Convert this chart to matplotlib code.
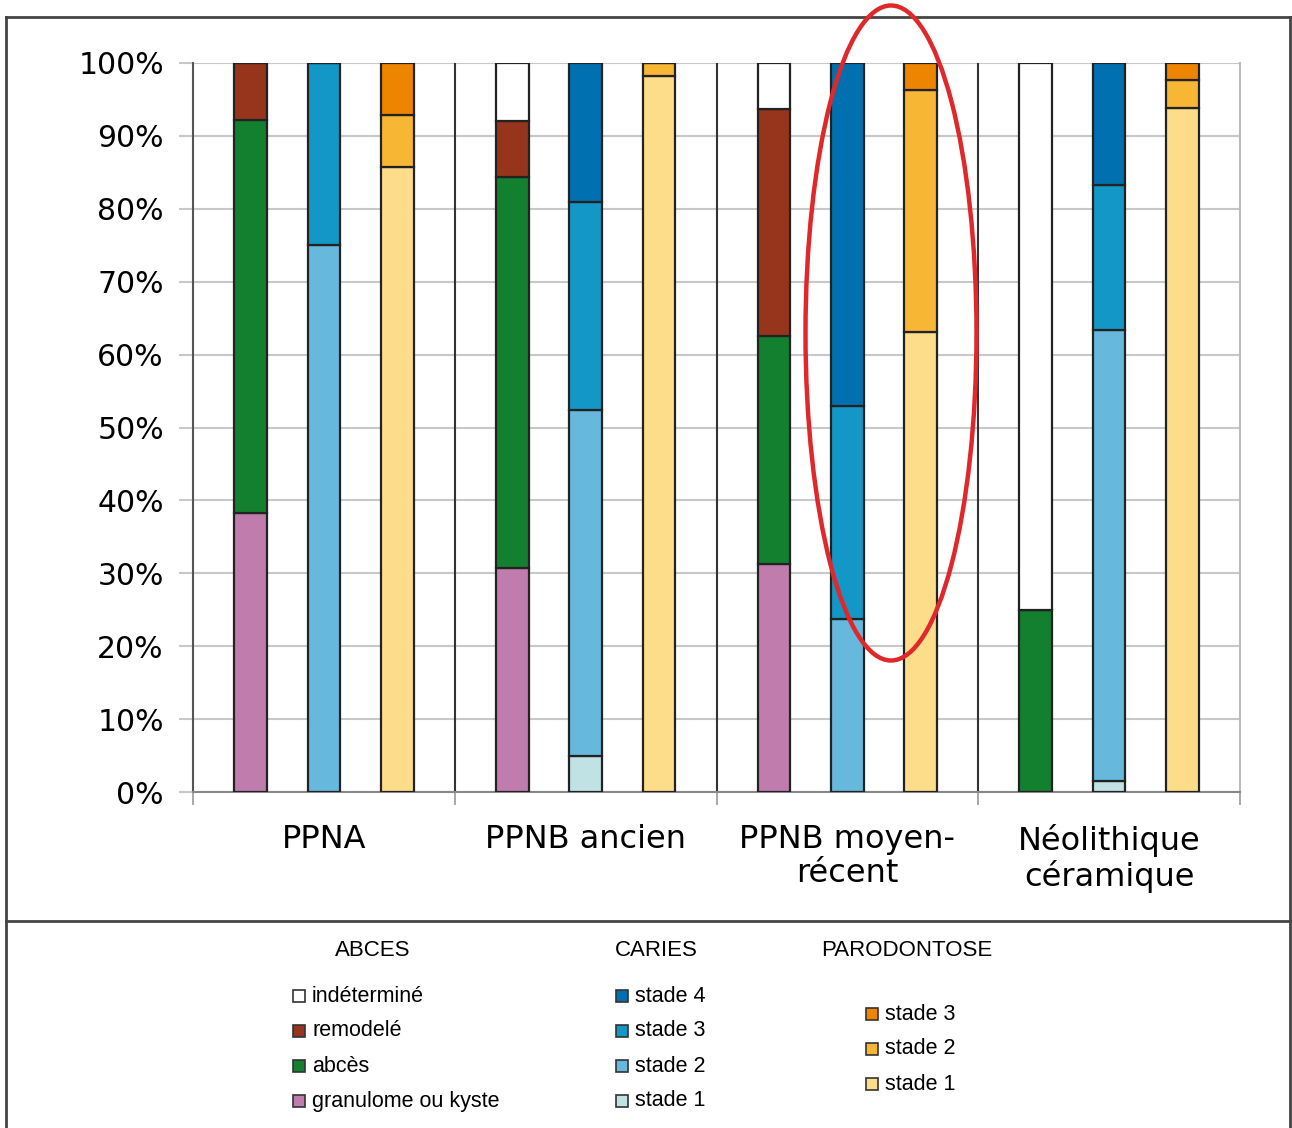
import numpy as np
import matplotlib.pyplot as plt
from matplotlib.patches import Ellipse, Rectangle
from matplotlib.lines import Line2D

# data (percent of each category per period)
groups = ["PPNA", "PPNB ancien", "PPNB moyen-\nrécent", "Néolithique\ncéramique"]

abces_granulome = [38.3, 30.7, 31.25, 0.0]
abces_abces = [53.9, 53.6, 31.25, 25.0]
abces_remodele = [7.8, 7.8, 31.25, 0.0]
abces_indet = [0.0, 7.9, 6.25, 75.0]

caries_s1 = [0.0, 4.9, 0.0, 1.5]
caries_s2 = [75.0, 47.5, 23.7, 61.9]
caries_s3 = [25.0, 28.5, 29.2, 19.8]
caries_s4 = [0.0, 19.1, 47.1, 16.8]

paro_s1 = [85.7, 98.2, 63.1, 93.8]
paro_s2 = [7.1, 1.8, 33.2, 3.9]
paro_s3 = [7.2, 0.0, 3.7, 2.3]

# colours
c_indet, c_remod, c_abces, c_gran = "#ffffff", "#96341c", "#138030", "#bf7cad"
c_car4, c_car3, c_car2, c_car1 = "#0070b0", "#1297c6", "#67b8dd", "#c0e2e5"
c_par3, c_par2, c_par1 = "#ee8500", "#f7b634", "#fedd8a"

W, H = 1292, 1128
fig = plt.figure(figsize=(W / 100, H / 100), dpi=100)
ax = fig.add_axes([193 / W, 1 - 792 / H, (1240 - 193) / W, (792 - 63) / H])

x = np.arange(len(groups))
bw = 0.125
offs = [-0.28, 0.0, 0.28]


def stack(xpos, layers, colors):
    bottom = np.zeros(len(groups))
    for vals, c in zip(layers, colors):
        ax.bar(xpos, vals, bw, bottom=bottom, color=c, edgecolor="#222222",
               linewidth=1.6, zorder=3)
        bottom += np.array(vals)


stack(x + offs[0], [abces_granulome, abces_abces, abces_remodele, abces_indet],
      [c_gran, c_abces, c_remod, c_indet])
stack(x + offs[1], [caries_s1, caries_s2, caries_s3, caries_s4],
      [c_car1, c_car2, c_car3, c_car4])
stack(x + offs[2], [paro_s1, paro_s2, paro_s3], [c_par1, c_par2, c_par3])

ax.set_xlim(-0.5, 3.5)
ax.set_ylim(0, 100)
ax.set_yticks(np.arange(0, 101, 10))
ax.set_yticklabels([f"{v}%" for v in range(0, 101, 10)])
ax.yaxis.grid(True, color="#c8c8c8", linewidth=1.5, zorder=0)
ax.tick_params(axis="y", length=10, color="#c8c8c8", width=1.5, pad=11, labelsize=21.5)

ax.set_xticks(x)
ax.set_xticklabels(groups)
ax.tick_params(axis="x", which="major", length=0, pad=23, labelsize=23)
for t in ax.get_xticklabels():
    t.set_linespacing(1.12)
ax.set_xticks([-0.5, 0.5, 1.5, 2.5, 3.5], minor=True)
ax.tick_params(axis="x", which="minor", length=9, color="#999999", width=1.2)

for s in [0.5, 1.5, 2.5]:
    ax.axvline(s, color="#333333", linewidth=1.5, zorder=2)

ax.spines["top"].set_visible(False)
ax.spines["left"].set_color("#555555")
ax.spines["left"].set_linewidth(1.5)
ax.spines["bottom"].set_color("#888888")
ax.spines["bottom"].set_linewidth(1.5)
ax.spines["right"].set_color("#bbbbbb")
ax.spines["right"].set_linewidth(1.5)

# outer frame
frame_kw = dict(transform=fig.transFigure, color="#444444", linewidth=2)
fig.add_artist(Line2D([6 / W, 1290 / W], [1 - 17 / H] * 2, **frame_kw))
fig.add_artist(Line2D([6 / W, 6 / W], [0, 1 - 17 / H], **frame_kw))
fig.add_artist(Line2D([1290 / W, 1290 / W], [0, 1 - 17 / H], **frame_kw))
fig.add_artist(Line2D([6 / W, 1290 / W], [1 - 921 / H] * 2, **frame_kw))

# red ellipse highlight
fig.add_artist(Ellipse((891 / W, 1 - 333 / H), 171 / W, 655 / H, transform=fig.transFigure,
                       fill=False, edgecolor="#e0282a", linewidth=3.2, zorder=10))

# legend
leg_font = ["Liberation Sans"]


def legend_item(xsq, yc, color, label):
    fig.add_artist(Rectangle((xsq / W, 1 - (yc + 6) / H), 12 / W, 12 / H,
                             transform=fig.transFigure, facecolor=color,
                             edgecolor="#333333", linewidth=1.2))
    fig.text((xsq + 19) / W, 1 - yc / H, label, ha="left", va="center",
             fontsize=15.5, family=leg_font)


for xc, title in [(373, "ABCES"), (656, "CARIES"), (907, "PARODONTOSE")]:
    fig.text(xc / W, 1 - 950 / H, title, ha="center", va="center", fontsize=16, family=leg_font)

rows = [996, 1031, 1066, 1101]
for yc, c, lab in zip(rows, [c_indet, c_remod, c_abces, c_gran],
                      ["indéterminé", "remodelé", "abcès", "granulome ou kyste"]):
    legend_item(293, yc, c, lab)
for yc, c, lab in zip(rows, [c_car4, c_car3, c_car2, c_car1],
                      ["stade 4", "stade 3", "stade 2", "stade 1"]):
    legend_item(616, yc, c, lab)
for yc, c, lab in zip([1014, 1049, 1084], [c_par3, c_par2, c_par1],
                      ["stade 3", "stade 2", "stade 1"]):
    legend_item(866, yc, c, lab)

fig.savefig("out.png", dpi=100)
